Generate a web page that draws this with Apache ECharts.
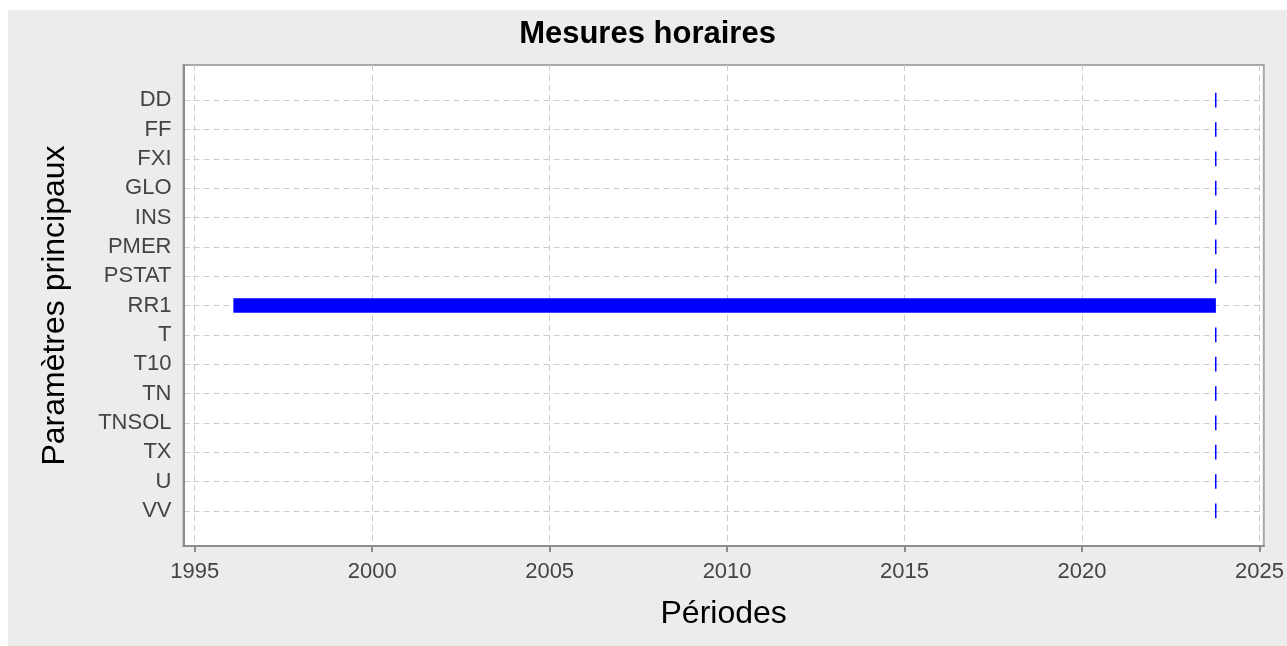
<!DOCTYPE html>
<html>
<head>
<meta charset="utf-8">
<script src="https://cdn.jsdelivr.net/npm/echarts@6/dist/echarts.min.js"></script>
<style>
  html, body { margin: 0; padding: 0; background: #ffffff; }
  #chart { position: absolute; left: 8px; top: 10px; width: 1279px; height: 636px; }
</style>
</head>
<body>
<div id="chart"></div>
<script>
// ---- data ----
const categories = ['DD', 'FF', 'FXI', 'GLO', 'INS', 'PMER', 'PSTAT', 'RR1', 'T', 'T10', 'TN', 'TNSOL', 'TX', 'U', 'VV'];
const startYears = [2023.75, 2023.75, 2023.75, 2023.75, 2023.75, 2023.75, 2023.75, 1996.09, 2023.75, 2023.75, 2023.75, 2023.75, 2023.75, 2023.75, 2023.75];
const endYears   = [2023.77, 2023.77, 2023.77, 2023.77, 2023.77, 2023.77, 2023.77, 2023.77, 2023.77, 2023.77, 2023.77, 2023.77, 2023.77, 2023.77, 2023.77];
const yearTicks = [1995, 2000, 2005, 2010, 2015, 2020, 2025];
const chartTitle = 'Mesures horaires';
const xName = 'Périodes';
const yName = 'Paramètres principaux';

const seriesData = categories.map((c, i) => [i, startYears[i], endYears[i]]);
const catIdx = categories.map((c, i) => i);

const FONT = 'Liberation Sans, Arial, Helvetica, sans-serif';
const chart = echarts.init(document.getElementById('chart'), null, { renderer: 'canvas' });

chart.setOption({
  backgroundColor: '#ececec',
  animation: false,
  title: {
    text: chartTitle,
    left: 'center',
    top: 4,
    textStyle: { fontFamily: FONT, fontSize: 31, fontWeight: 'bold', color: '#000' }
  },
  grid: {
    left: 175.5, right: 21, top: 55, bottom: 100,
    show: true,
    backgroundColor: '#ffffff',
    borderColor: '#a8a8a8',
    borderWidth: 2
  },
  xAxis: {
    type: 'value',
    min: 1994.685,
    max: 2025.121,
    name: xName,
    nameLocation: 'middle',
    nameGap: 52,
    nameTextStyle: { fontFamily: FONT, fontSize: 32, color: '#000' },
    axisLine: { show: true, onZero: false, lineStyle: { color: '#8c8c8c', width: 2 } },
    axisTick: { show: true, inside: false, length: 6, customValues: yearTicks, lineStyle: { color: '#8c8c8c', width: 2 } },
    axisLabel: { customValues: yearTicks, margin: 15, fontFamily: FONT, fontSize: 22, color: '#444', formatter: v => String(Math.round(v)) },
    splitLine: { show: true, lineStyle: { color: '#cccccc', type: [6, 4], width: 1 } }
  },
  yAxis: {
    type: 'value',
    inverse: true,
    min: -1.2,
    max: 15.2,
    name: yName,
    nameLocation: 'middle',
    nameGap: 112,
    nameTextStyle: { fontFamily: FONT, fontSize: 32, color: '#000' },
    axisLine: { show: true, onZero: false, lineStyle: { color: '#8c8c8c', width: 2 } },
    axisTick: { show: false, customValues: catIdx },
    axisLabel: { customValues: catIdx, margin: 12, fontFamily: FONT, fontSize: 22, color: '#444', formatter: v => categories[Math.round(v)] || '' },
    splitLine: { show: true, lineStyle: { color: '#cccccc', type: [6, 4], width: 1 } }
  },
  series: [{
    type: 'custom',
    data: seriesData,
    encode: { x: [1, 2], y: 0 },
    renderItem: function (params, api) {
      const cat = api.value(0);
      const p0 = api.coord([api.value(1), cat]);
      const p1 = api.coord([api.value(2), cat]);
      const h = api.size([0, 0.5])[1];
      let x = p0[0];
      let w = p1[0] - p0[0];
      if (w < 1.5) { x = Math.round(x); w = 1.5; }
      return {
        type: 'rect',
        shape: { x: x, y: p0[1] - h / 2, width: w, height: h },
        style: { fill: '#0000ff' }
      };
    }
  }]
});
</script>
</body>
</html>
